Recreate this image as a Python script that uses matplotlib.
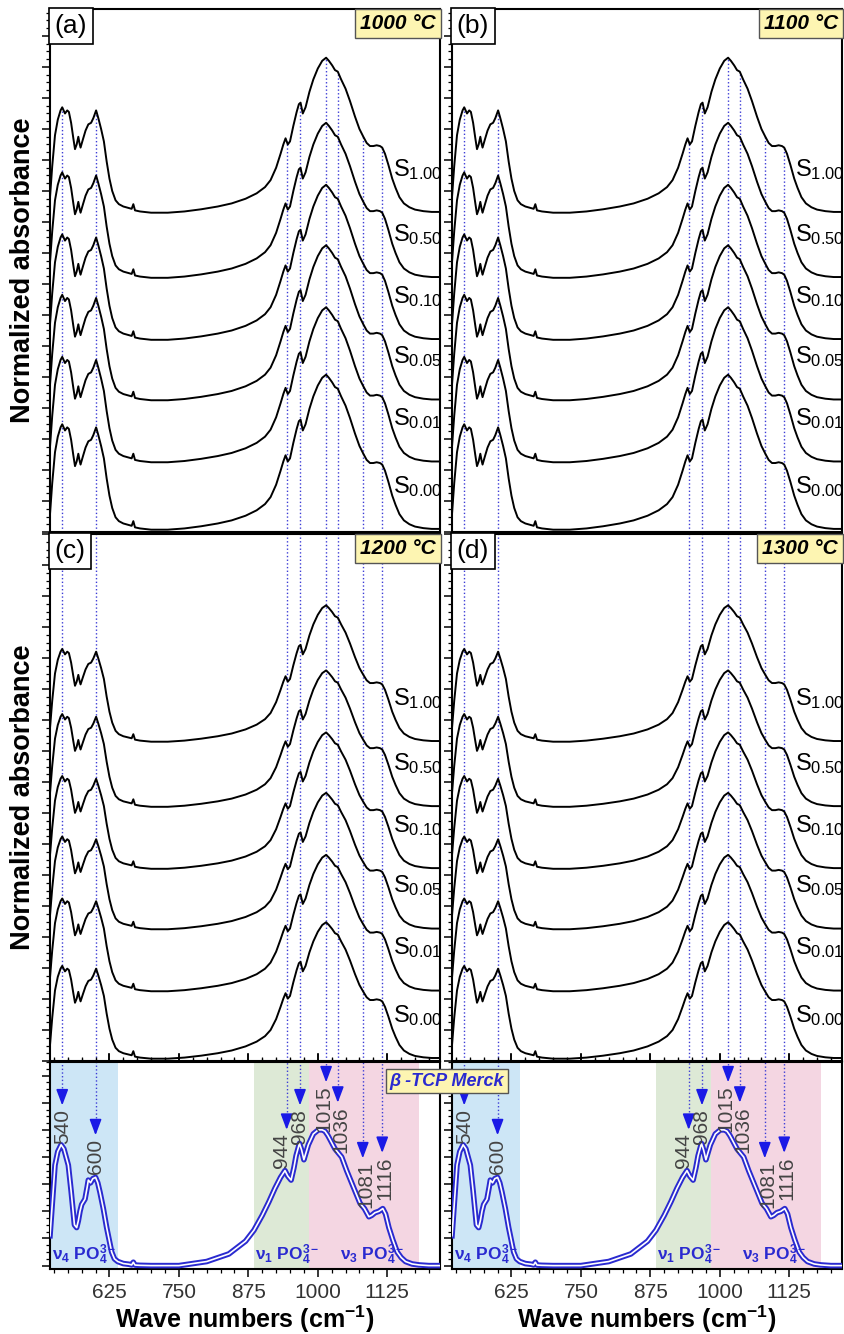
import numpy as np
import matplotlib
matplotlib.use('Agg')
import matplotlib.pyplot as plt
from matplotlib.ticker import MultipleLocator

plt.rcParams['font.family'] = ['Liberation Sans', 'DejaVu Sans']
plt.rcParams['mathtext.fontset'] = 'custom'
plt.rcParams['mathtext.rm'] = 'Liberation Sans'
plt.rcParams['mathtext.it'] = 'Liberation Sans:italic'
plt.rcParams['mathtext.bf'] = 'Liberation Sans:bold'

# FTIR spectrum of the sintered samples (normalized)
wn_sample = [518, 522, 527, 532, 537, 540, 545, 549, 552, 556, 560, 563, 566, 569, 571,
             573, 577, 582, 587, 592, 596, 601, 605, 610, 615, 620, 625, 630, 636, 642,
             650, 660, 665, 668, 671, 680, 700, 730, 760, 790, 820, 845, 870, 890, 905,
             915, 925, 933, 938, 942, 946, 950, 956, 962, 966, 969, 973, 978, 985, 992,
             1000, 1008, 1015, 1020, 1026, 1031, 1036, 1042, 1050, 1058, 1067, 1075, 1082,
             1088, 1094, 1100, 1106, 1112, 1116, 1121, 1127, 1134, 1140, 1147, 1155, 1165,
             1175, 1190, 1205, 1220]
abs_sample = [0.10, 0.30, 0.50, 0.60, 0.66, 0.68, 0.64, 0.66, 0.65, 0.58, 0.48, 0.41, 0.44,
              0.49, 0.45, 0.42, 0.47, 0.53, 0.57, 0.58, 0.61, 0.66, 0.61, 0.54, 0.46, 0.33,
              0.22, 0.14, 0.08, 0.055, 0.04, 0.03, 0.025, 0.055, 0.015, 0.008, 0.0, 0.0,
              0.008, 0.022, 0.04, 0.06, 0.09, 0.125, 0.165, 0.21, 0.29, 0.38, 0.44, 0.48,
              0.44, 0.46, 0.56, 0.65, 0.70, 0.71, 0.64, 0.68, 0.78, 0.86, 0.93, 0.98, 1.0,
              0.98, 0.95, 0.92, 0.91, 0.86, 0.80, 0.72, 0.62, 0.54, 0.49, 0.45, 0.43, 0.43,
              0.435, 0.43, 0.42, 0.38, 0.31, 0.22, 0.16, 0.10, 0.06, 0.035, 0.02, 0.01,
              0.005, 0.005]

# beta-TCP Merck reference spectrum
wn_ref = [518, 522, 527, 532, 538, 543, 551, 556, 562, 566, 569, 572, 575, 581, 585, 587,
          591, 595, 600, 604, 608, 614, 620, 625, 629, 634, 640, 650, 660, 665, 668, 671,
          680, 700, 750, 800, 840, 870, 885, 900, 912, 923, 933, 941, 946, 952, 957, 961,
          967, 971, 975, 983, 992, 1001, 1008, 1013, 1018, 1022, 1031, 1043, 1052, 1064,
          1076, 1084, 1092, 1097, 1103, 1110, 1117, 1122, 1128, 1135, 1143, 1150, 1158,
          1170, 1182, 1200, 1220]
abs_ref = [0.22, 0.45, 0.74, 0.84, 0.89, 0.86, 0.74, 0.55, 0.30, 0.28, 0.33, 0.40, 0.45,
           0.49, 0.58, 0.63, 0.61, 0.64, 0.65, 0.61, 0.54, 0.42, 0.28, 0.18, 0.10, 0.05,
           0.03, 0.015, 0.01, 0.005, 0.025, 0.004, 0.002, 0.0, 0.0, 0.03, 0.086, 0.18,
           0.26, 0.37, 0.47, 0.57, 0.65, 0.70, 0.66, 0.63, 0.72, 0.81, 0.90, 0.85, 0.78,
           0.89, 0.97, 1.0, 1.0, 0.99, 0.96, 0.93, 0.86, 0.80, 0.70, 0.58, 0.46, 0.42,
           0.36, 0.37, 0.39, 0.40, 0.42, 0.38, 0.28, 0.19, 0.10, 0.06, 0.03, 0.012, 0.005,
           0.0, 0.0]

sample_names = ['S$_{0.00}$', 'S$_{0.01}$', 'S$_{0.05}$', 'S$_{0.10}$', 'S$_{0.50}$', 'S$_{1.00}$']
stack_offsets = [0.015, 0.45, 0.85, 1.24, 1.64, 2.06]
temperatures = ['1000 °C', '1100 °C', '1200 °C', '1300 °C']
panel_tags = ['(a)', '(b)', '(c)', '(d)']
# apparent band height of the spectra in each panel (relative)
band_height = [1.0, 1.0, 0.88, 0.88]

band_peaks = [540, 600, 944, 968, 1015, 1036, 1081, 1116]
arrow_tips = [1.18, 0.96, 1.00, 1.18, 1.35, 1.20, 0.79, 0.83]
label_shift = [0, 0, -10, 0, -4, 5, 5, 5]

bands = [(518, 641, '#cde6f6'), (886, 985, '#dde9d6'), (985, 1183, '#f4d6e2')]
band_labels = [(521, r'ν$_\mathbf{4}$ PO$_\mathbf{4}^\mathbf{3-}$'),
               (887, r'ν$_\mathbf{1}$ PO$_\mathbf{4}^\mathbf{3-}$'),
               (1040, r'ν$_\mathbf{3}$ PO$_\mathbf{4}^\mathbf{3-}$')]

BLUE = '#2a2ad0'
DOT = '#3c3cd6'
W, H = 845, 1334
XLIM = (518, 1220)
PX_PER_UNIT = 155.0

fig = plt.figure(figsize=(W / 100, H / 100), dpi=100)


def make_ax(left_px, top_px, bot_px):
    return fig.add_axes([left_px / W, 1 - bot_px / H, 390 / W, (bot_px - top_px) / H])


def style_ax(ax, bottom_dir):
    ax.set_xlim(*XLIM)
    ax.xaxis.set_major_locator(MultipleLocator(125))
    ax.xaxis.set_minor_locator(MultipleLocator(25))
    ax.yaxis.set_major_locator(MultipleLocator(0.2))
    ax.yaxis.set_minor_locator(MultipleLocator(0.05))
    ax.tick_params(axis='y', which='both', direction='out', left=True, right=False, labelleft=False)
    ax.tick_params(axis='x', which='both', direction=bottom_dir, bottom=True, top=False, labelbottom=False)
    ax.tick_params(which='major', length=6, width=1.1)
    ax.tick_params(which='minor', length=3, width=0.9)
    for s in ax.spines.values():
        s.set_linewidth(1.5)


cols = [50, 452]
rows = [(9, 532), (534, 1061)]

for i in range(4):
    r, c = divmod(i, 2)
    top_px, bot_px = rows[r]
    ax = make_ax(cols[c], top_px, bot_px)
    style_ax(ax, 'out' if r == 0 else 'in')
    ytop = (bot_px - top_px) / PX_PER_UNIT
    ax.set_ylim(0, ytop)
    spec = np.array(abs_sample) * band_height[i]

    for p in band_peaks:
        y0 = stack_offsets[-1] + np.interp(p, wn_sample, spec) if r == 0 else ytop
        ax.plot([p, p], [0, y0], ls=':', color=DOT, lw=1.0, zorder=1)

    for off, name in zip(stack_offsets, sample_names):
        ax.plot(wn_sample, spec + off, color='black', lw=1.4, zorder=2)
        ax.text(1135, off + 0.28, name, fontsize=17, va='center', ha='left', zorder=3)

    ax.text(0.012, 0.99, panel_tags[i], transform=ax.transAxes, ha='left', va='top',
            fontsize=19, bbox=dict(boxstyle='square,pad=0.22', fc='white', ec='black', lw=1.2))
    ax.text(0.99, 0.99, temperatures[i], transform=ax.transAxes, ha='right', va='top',
            fontsize=15, fontweight='bold', style='italic',
            bbox=dict(boxstyle='square,pad=0.25', fc='#fdf5b2', ec='#555555', lw=1.0))
    if c == 0:
        ax.set_ylabel('Normalized absorbance', fontsize=19.5, fontweight='bold')
        ax.yaxis.set_label_coords(-0.035, 0.5)

# reference spectrum panels
for c in range(2):
    ax = make_ax(cols[c], 1062, 1269)
    style_ax(ax, 'out')
    ax.tick_params(axis='x', which='both', top=True, labelbottom=True, labelsize=15,
                   labelcolor='#333333', pad=4)
    ax.set_ylim(-0.025, 1.50)
    for x0, x1, col in bands:
        ax.axvspan(x0, x1, color=col, lw=0, zorder=0)
    ax.plot(wn_ref, abs_ref, color=BLUE, lw=4.0, zorder=3)
    ax.plot(wn_ref, abs_ref, color='white', lw=1.2, zorder=4)
    for p, tip, dx in zip(band_peaks, arrow_tips, label_shift):
        ax.plot([p, p], [tip + 0.05, 1.50], ls=':', color=DOT, lw=1.0, zorder=2)
        ax.annotate('', xy=(p, tip), xytext=(p, tip + 0.09),
                    arrowprops=dict(arrowstyle='-|>,head_length=0.8,head_width=0.3',
                                    color='#1a1ae6', lw=1.2, shrinkA=0, shrinkB=0,
                                    mutation_scale=12), zorder=5)
        ax.text(p + dx, tip - 0.025, str(p), rotation=90, ha='center', va='top',
                fontsize=15, color='#444444', zorder=6)
    for x, lab in band_labels:
        ax.text(x, -0.01, lab, fontsize=12.5, fontweight='bold', color=BLUE,
                ha='left', va='bottom', zorder=6)
    ax.set_xlabel('Wave numbers (cm$^{\\mathbf{-1}}$)', fontsize=18, fontweight='bold', labelpad=1)

fig.text(447 / W, 1 - 1081 / H, 'β -TCP Merck', ha='center', va='center', fontsize=13,
         fontweight='bold', style='italic', color=BLUE, zorder=10,
         bbox=dict(boxstyle='square,pad=0.2', fc='#fdf5b2', ec='#555555', lw=1.0))

fig.savefig('out.png', dpi=100)
